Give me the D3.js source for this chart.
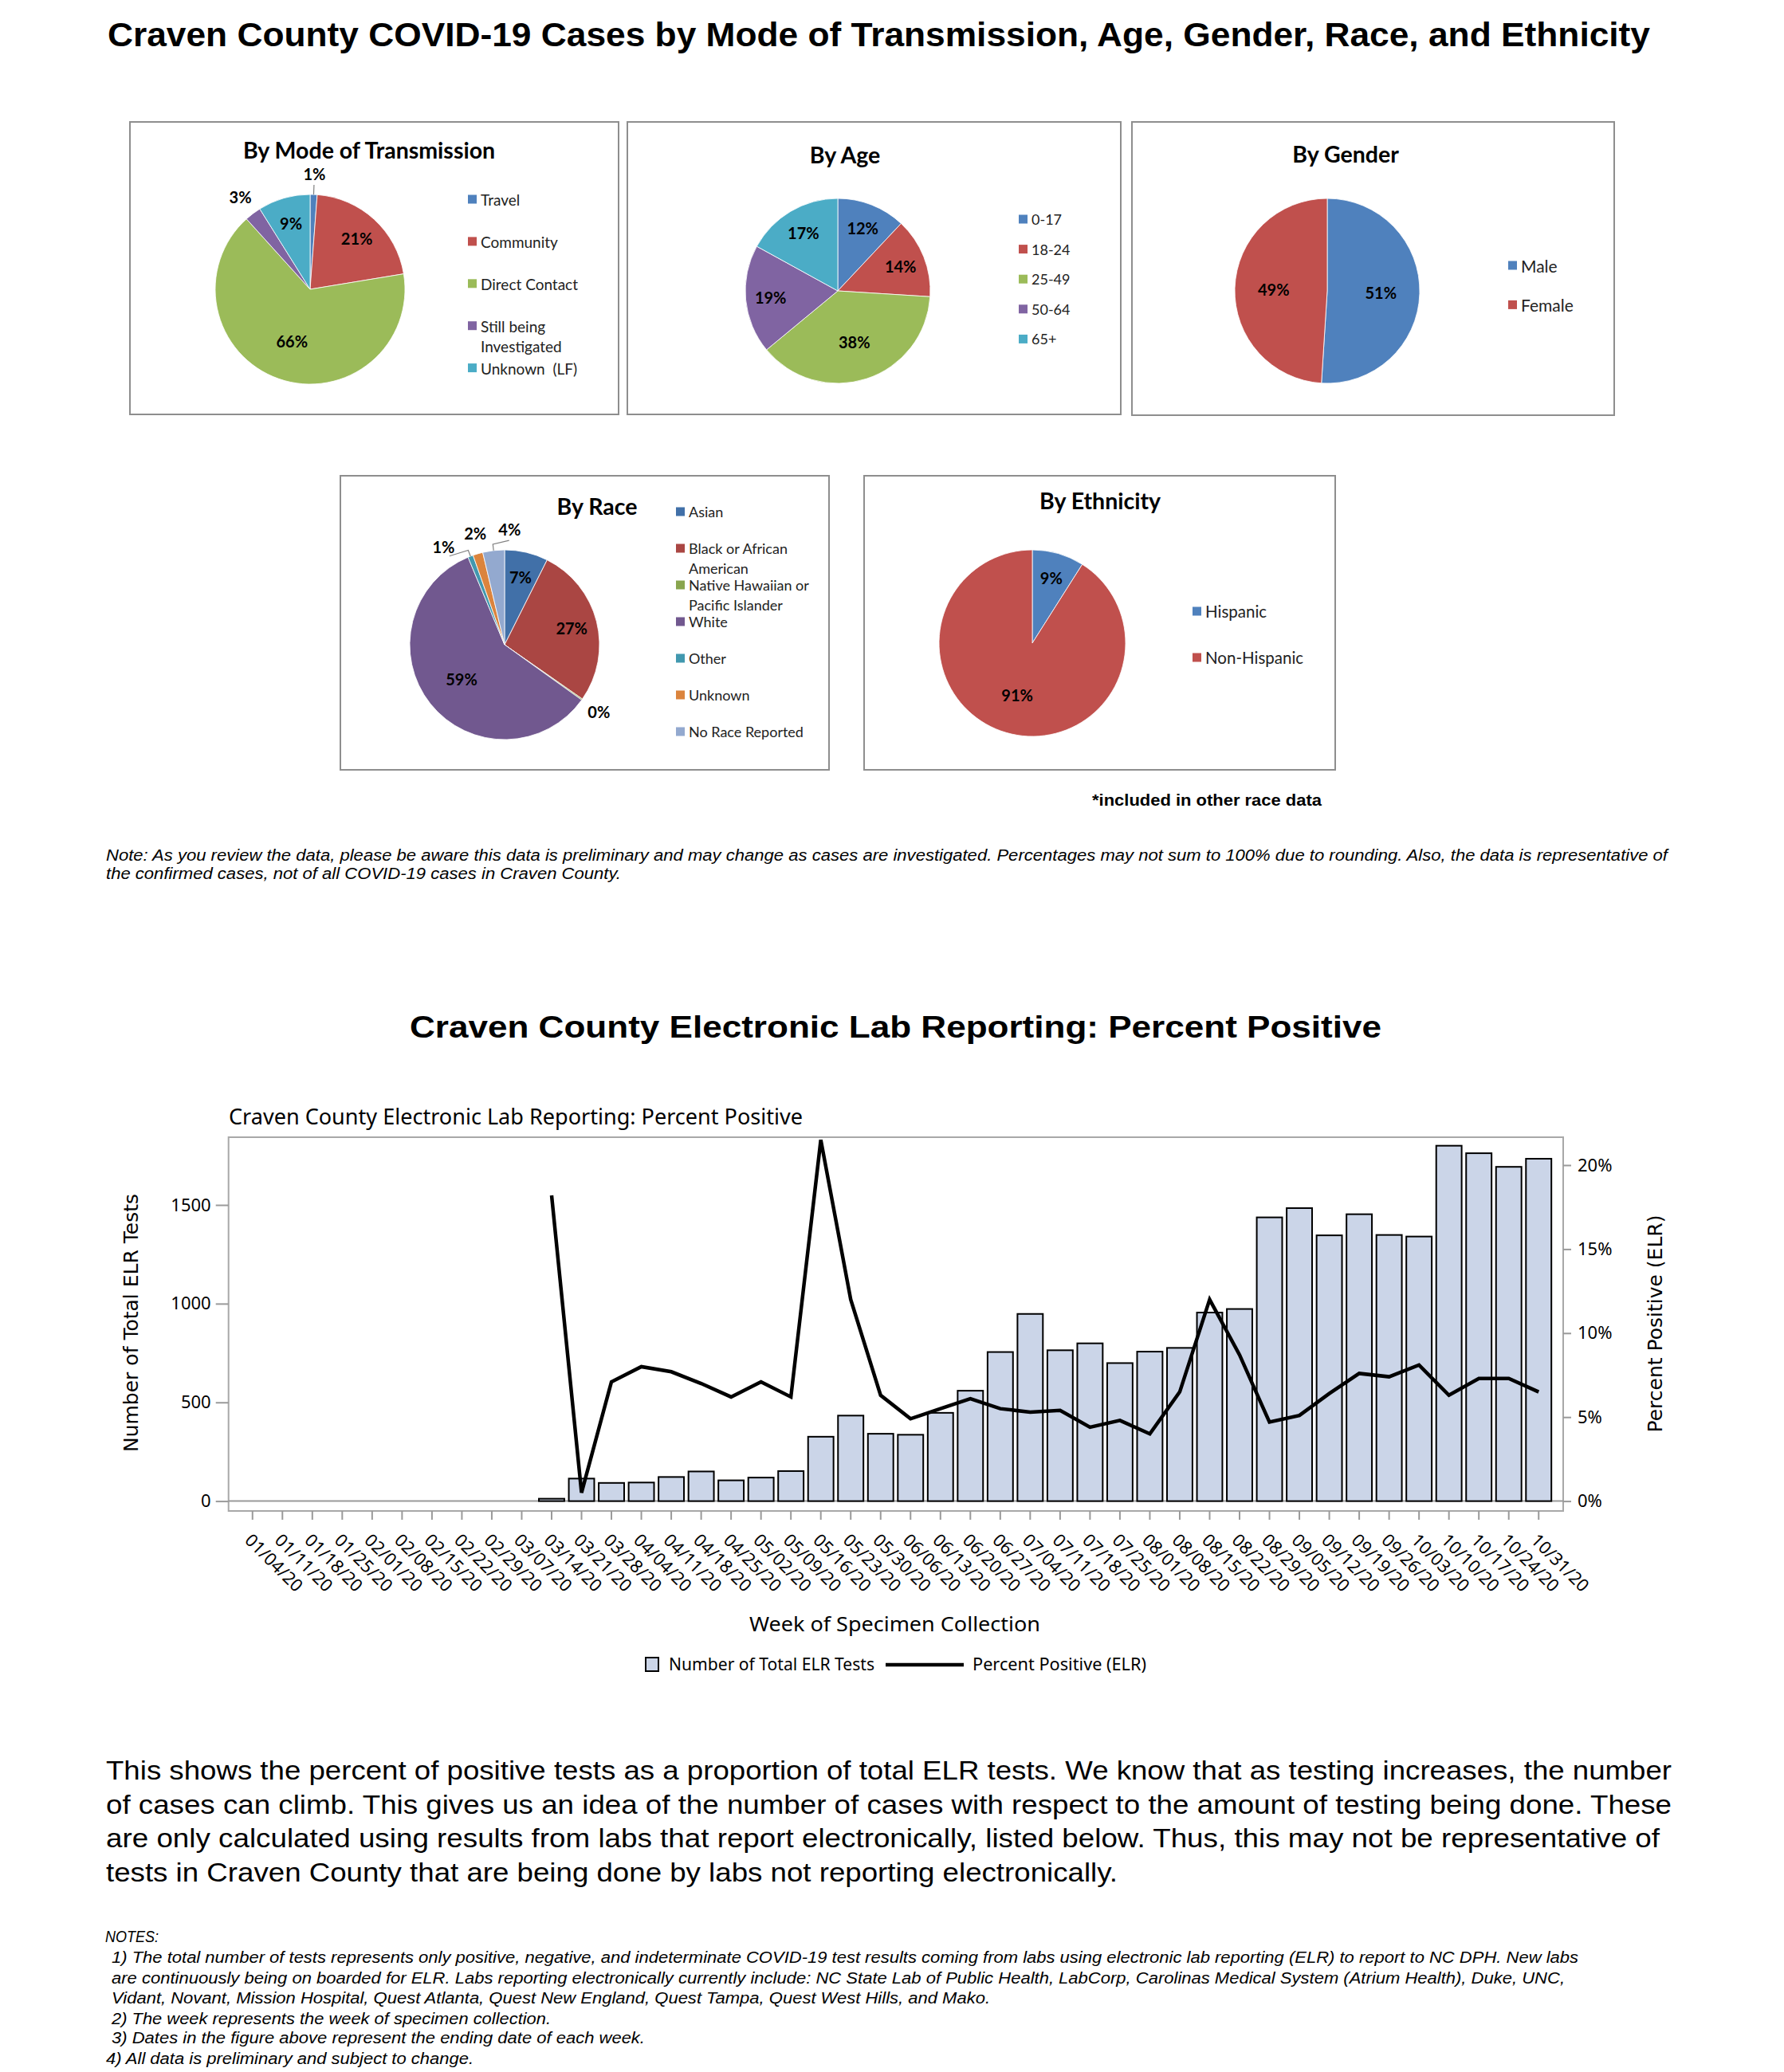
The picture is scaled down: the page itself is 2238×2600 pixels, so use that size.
<!DOCTYPE html>
<html>
<head>
<meta charset="utf-8">
<script src="https://cdn.jsdelivr.net/npm/d3@7"></script>
<style>
  body { margin: 0; background: #fff; }
  svg { display: block; }
  .arial { font-family: "Liberation Sans", Arial, sans-serif; }
  .cal { font-family: Lato, "Open Sans", sans-serif; }
  .sas { font-family: "Noto Sans", "Open Sans", sans-serif; }
</style>
</head>
<body>
<svg id="page" width="2238" height="2600"></svg>
<script>
// ---------- data ----------
const transmissionCats = ['Travel', 'Community', 'Direct Contact', 'Still being Investigated', 'Unknown\u00a0\u00a0(LF)'];
const transmissionPct = [1.2, 21.2, 65.9, 2.8, 8.9];

const ageCats = ['0-17', '18-24', '25-49', '50-64', '65+'];
const agePct = [12, 14, 38, 19, 17];

const genderCats = ['Male', 'Female'];
const genderPct = [51, 49];

const raceCats = ['Asian', 'Black or African American', 'Native Hawaiian or Pacific Islander', 'White', 'Other', 'Unknown', 'No Race Reported'];
const racePct = [7.4, 27.3, 0.2, 58.8, 0.9, 1.7, 3.7];

const ethnicityCats = ['Hispanic', 'Non-Hispanic'];
const ethnicityPct = [9, 91];

const weeks = ['01/04/20', '01/11/20', '01/18/20', '01/25/20', '02/01/20', '02/08/20', '02/15/20', '02/22/20',
  '02/29/20', '03/07/20', '03/14/20', '03/21/20', '03/28/20', '04/04/20', '04/11/20', '04/18/20', '04/25/20',
  '05/02/20', '05/09/20', '05/16/20', '05/23/20', '05/30/20', '06/06/20', '06/13/20', '06/20/20', '06/27/20',
  '07/04/20', '07/11/20', '07/18/20', '07/25/20', '08/01/20', '08/08/20', '08/15/20', '08/22/20', '08/29/20',
  '09/05/20', '09/12/20', '09/19/20', '09/26/20', '10/03/20', '10/10/20', '10/17/20', '10/24/20', '10/31/20'];
const elrTests = [0, 0, 0, 0, 0, 0, 0, 0, 0, 0, 12, 114, 92, 94, 122, 150, 105, 119, 152, 326, 433, 341,
  336, 447, 559, 755, 948, 764, 799, 699, 757, 776, 955, 973, 1437, 1484, 1346, 1453, 1348, 1340, 1800,
  1762, 1693, 1734];
const pctPositive = [null, null, null, null, null, null, null, null, null, null, 18.2, 0.5, 7.1, 8.0, 7.7,
  7.0, 6.2, 7.1, 6.2, 21.5, 12.0, 6.3, 4.9, 5.5, 6.1, 5.5, 5.3, 5.4, 4.4, 4.8, 4.0, 6.5, 12.0, 8.7, 4.7,
  5.1, 6.4, 7.6, 7.4, 8.1, 6.3, 7.3, 7.3, 6.5];

const leftTicks = [0, 500, 1000, 1500];
const rightTicks = [0, 5, 10, 15, 20];

const officeColors = ['#4f81bd', '#c0504d', '#9bbb59', '#8064a2', '#4bacc6'];
const raceColors = ['#4170a8', '#aa4643', '#89a54e', '#71588f', '#4198af', '#db843d', '#93a9cf'];

const svg = d3.select('#page');

// ---------- text helpers ----------
function line(x, y, str, cls, size, opts = {}) {
  const t = svg.append('text')
    .attr('x', x).attr('y', y)
    .attr('class', cls)
    .style('font-size', size + 'px')
    .text(str);
  if (opts.bold) t.style('font-weight', 'bold');
  if (opts.italic) t.style('font-style', 'italic');
  if (opts.len) t.attr('textLength', opts.len).attr('lengthAdjust', 'spacingAndGlyphs');
  if (opts.anchor) t.attr('text-anchor', opts.anchor);
  return t;
}

function wrap(text, str, width, lh) {
  const words = str.split(' ');
  let cur = [];
  let tspan = text.append('tspan').attr('x', text.attr('x')).attr('dy', 0);
  words.forEach(w => {
    cur.push(w);
    tspan.text(cur.join(' '));
    if (tspan.node().getComputedTextLength() > width && cur.length > 1) {
      cur.pop();
      tspan.text(cur.join(' '));
      cur = [w];
      tspan = text.append('tspan').attr('x', text.attr('x')).attr('dy', lh).text(w);
    }
  });
}

// ---------- page titles and notes ----------
line(135, 58, 'Craven County COVID-19 Cases by Mode of Transmission, Age, Gender, Race, and Ethnicity',
  'arial', 42, { bold: true, len: 1935 });

// ---------- pies ----------
function drawPie(p) {
  const g = svg.append('g');
  g.append('rect')
    .attr('x', p.box[0]).attr('y', p.box[1])
    .attr('width', p.box[2]).attr('height', p.box[3])
    .attr('fill', '#fff').attr('stroke', '#8e8e8e').attr('stroke-width', 2);

  g.append('text')
    .attr('class', 'cal')
    .attr('x', p.titleX).attr('y', p.titleY)
    .attr('text-anchor', 'middle')
    .style('font-size', '28.5px').style('font-weight', 'bold')
    .text(p.title);

  const rows = p.cats.map((c, i) => ({ c, v: p.values[i], color: p.colors[i] }));
  const arcs = d3.pie().sort(null).value(d => d.v)(rows);
  const arc = d3.arc().innerRadius(0).outerRadius(p.r);
  const total = d3.sum(p.values);

  const pg = g.append('g').attr('transform', `translate(${p.cx},${p.cy})`);
  pg.selectAll('path')
    .data(arcs)
    .join('path')
    .attr('d', arc)
    .attr('fill', d => d.data.color)
    .attr('stroke', '#fff')
    .attr('stroke-width', 0.8);

  // label placement: small slices go outside, crowded ones get spread around their mean angle
  const minSep = 0.3;
  const labels = arcs.map(a => {
    const frac = a.data.v / total;
    const mid = (a.startAngle + a.endAngle) / 2;
    return { frac, mid, ang: mid, out: frac < 0.045 };
  });
  const clusters = [];
  labels.filter(l => l.out).forEach(l => {
    const last = clusters[clusters.length - 1];
    if (last && l.mid - last[last.length - 1].mid < minSep) last.push(l);
    else clusters.push([l]);
  });
  clusters.forEach(cl => {
    const mean = d3.mean(cl, l => l.mid);
    cl.forEach((l, k) => { l.ang = mean + (k - (cl.length - 1) / 2) * minSep; });
  });

  labels.forEach(l => {
    let rr;
    if (l.out) {
      rr = p.r + 26;
      const moved = Math.abs(l.ang - l.mid) > 0.12;
      if (moved || (l.frac >= 0.005 && l.frac < 0.015)) {
        pg.append('path')
          .attr('d', d3.line()([
            [Math.sin(l.mid) * p.r, -Math.cos(l.mid) * p.r],
            [Math.sin(l.mid) * (p.r + 8), -Math.cos(l.mid) * (p.r + 8)],
            [Math.sin(l.ang) * (p.r + 12), -Math.cos(l.ang) * (p.r + 12)]
          ]))
          .attr('fill', 'none').attr('stroke', '#808080').attr('stroke-width', 1.2);
      }
    } else {
      rr = p.r * (l.frac > 0.35 ? 0.58 : 0.73);
    }
    pg.append('text')
      .attr('class', 'cal')
      .attr('x', Math.sin(l.ang) * rr)
      .attr('y', -Math.cos(l.ang) * rr)
      .attr('text-anchor', 'middle')
      .attr('dominant-baseline', 'central')
      .style('font-size', '20px').style('font-weight', 'bold')
      .text(Math.round(l.frac * 100) + '%');
  });

  p.cats.forEach((c, i) => {
    const y = p.legY + i * p.legStep;
    g.append('rect')
      .attr('x', p.legX).attr('y', y - 5.5)
      .attr('width', 11).attr('height', 11)
      .attr('fill', p.colors[i]);
    const t = g.append('text')
      .attr('class', 'cal')
      .attr('x', p.legX + 16).attr('y', y)
      .attr('dominant-baseline', 'central')
      .style('font-size', p.legFont + 'px')
      .attr('fill', '#222');
    wrap(t, c, p.legWrap, 25.3);
  });
}

drawPie({
  title: 'By Mode of Transmission', titleX: 463, titleY: 199,
  box: [163, 153, 613, 367], cx: 389, cy: 363, r: 119,
  cats: transmissionCats, values: transmissionPct, colors: officeColors,
  legX: 587, legY: 250, legStep: 52.9, legFont: 19, legWrap: 125
});
drawPie({
  title: 'By Age', titleX: 1060, titleY: 205,
  box: [787, 153, 619, 367], cx: 1051, cy: 365, r: 116,
  cats: ageCats, values: agePct, colors: officeColors,
  legX: 1278, legY: 275, legStep: 37.6, legFont: 18, legWrap: 150
});
drawPie({
  title: 'By Gender', titleX: 1688, titleY: 204,
  box: [1420, 153, 605, 368], cx: 1665, cy: 365, r: 116,
  cats: genderCats, values: genderPct, colors: officeColors,
  legX: 1892, legY: 333, legStep: 49.4, legFont: 21, legWrap: 150
});
drawPie({
  title: 'By Race', titleX: 749, titleY: 646,
  box: [427, 597, 613, 369], cx: 633, cy: 809, r: 119,
  cats: raceCats, values: racePct, colors: raceColors,
  legX: 848, legY: 642, legStep: 46, legFont: 18, legWrap: 165
});
drawPie({
  title: 'By Ethnicity', titleX: 1380, titleY: 639,
  box: [1084, 597, 591, 369], cx: 1295, cy: 807, r: 117,
  cats: ethnicityCats, values: ethnicityPct, colors: officeColors,
  legX: 1496, legY: 767, legStep: 58, legFont: 20.5, legWrap: 160
});

line(1370, 1011, '*included in other race data', 'arial', 20, { bold: true, len: 288 });

line(133, 1080, 'Note: As you review the data, please be aware this data is preliminary and may change as cases are investigated. Percentages may not sum to 100% due to rounding. Also, the data is representative of',
  'arial', 20, { italic: true, len: 1959 });
line(133, 1103, 'the confirmed cases, not of all COVID-19 cases in Craven County.',
  'arial', 20, { italic: true, len: 646 });

// ---------- ELR chart ----------
line(514, 1302, 'Craven County Electronic Lab Reporting: Percent Positive', 'arial', 39, { bold: true, len: 1219 });
line(287, 1411, 'Craven County Electronic Lab Reporting: Percent Positive', 'sas', 27, { len: 720 });

const plot = { left: 286.7, right: 1961, top: 1427, bottom: 1896 };
const x = d3.scaleBand().domain(weeks).range([298, 1949]).paddingInner(0.15).paddingOuter(0.075);
const yL = d3.scaleLinear().domain([0, 1500]).range([1883.6, 1512]);
const yR = d3.scaleLinear().domain([0, 20]).range([1883.6, 1462]);

svg.append('rect')
  .attr('x', plot.left).attr('y', plot.top)
  .attr('width', plot.right - plot.left).attr('height', plot.bottom - plot.top)
  .attr('fill', '#fff').attr('stroke', '#a8a8a8').attr('stroke-width', 2);

svg.append('line')
  .attr('x1', plot.left).attr('x2', plot.right)
  .attr('y1', yL(0)).attr('y2', yL(0))
  .attr('stroke', '#9a9a9a').attr('stroke-width', 2);

function styleAxis(g) {
  g.select('.domain').remove();
  g.selectAll('.tick line').attr('stroke', '#9a9a9a').attr('stroke-width', 2);
  g.attr('font-family', '"Noto Sans", "Open Sans", sans-serif').attr('font-size', 22);
  g.selectAll('.tick text').attr('fill', '#000');
}

svg.append('g')
  .attr('transform', `translate(${plot.left},0)`)
  .call(d3.axisLeft(yL).tickValues(leftTicks).tickSize(16).tickPadding(6).tickFormat(d3.format('d')))
  .call(styleAxis);

svg.append('g')
  .attr('transform', `translate(${plot.right},0)`)
  .call(d3.axisRight(yR).tickValues(rightTicks).tickSize(10).tickPadding(8).tickFormat(d => d + '%'))
  .call(styleAxis);

svg.append('g')
  .attr('transform', `translate(0,${plot.bottom})`)
  .call(d3.axisBottom(x).tickSize(11).tickSizeOuter(0))
  .call(styleAxis)
  .call(g => g.selectAll('.tick text')
    .attr('x', 0).attr('y', 0).attr('dy', 0)
    .attr('transform', 'translate(-11,38) rotate(45)')
    .style('text-anchor', 'start'));

svg.append('g')
  .selectAll('rect')
  .data(weeks.map((w, i) => ({ w, n: elrTests[i] })).filter(d => d.n > 0))
  .join('rect')
  .attr('x', d => x(d.w))
  .attr('y', d => yL(d.n))
  .attr('width', x.bandwidth())
  .attr('height', d => yL(0) - yL(d.n))
  .attr('fill', '#cbd5e8')
  .attr('stroke', '#000')
  .attr('stroke-width', 2);

const pctLine = d3.line()
  .defined(d => d.p != null)
  .x(d => x(d.w) + x.bandwidth() / 2)
  .y(d => yR(d.p));

svg.append('path')
  .datum(weeks.map((w, i) => ({ w, p: pctPositive[i] })))
  .attr('d', pctLine)
  .attr('fill', 'none')
  .attr('stroke', '#000')
  .attr('stroke-width', 4.5)
  .attr('stroke-linejoin', 'miter');

svg.append('text')
  .attr('transform', `translate(164,1660) rotate(-90)`)
  .attr('text-anchor', 'middle').attr('dominant-baseline', 'central')
  .style('font-family', '"DejaVu Sans", Verdana, sans-serif').style('font-size', '25px')
  .text('Number of Total ELR Tests');

svg.append('text')
  .attr('transform', `translate(2076,1661) rotate(-90)`)
  .attr('text-anchor', 'middle').attr('dominant-baseline', 'central')
  .style('font-family', '"DejaVu Sans", Verdana, sans-serif').style('font-size', '25px')
  .text('Percent Positive (ELR)');

line(940, 2047, 'Week of Specimen Collection', 'sas', 26, { len: 365 });

// legend
svg.append('rect').attr('x', 810).attr('y', 2080).attr('width', 16).attr('height', 17)
  .attr('fill', '#cbd5e8').attr('stroke', '#000').attr('stroke-width', 2);
line(839, 2096, 'Number of Total ELR Tests', 'sas', 21, { len: 258 });
svg.append('line').attr('x1', 1111).attr('x2', 1209).attr('y1', 2089).attr('y2', 2089)
  .attr('stroke', '#000').attr('stroke-width', 4.5);
line(1220, 2096, 'Percent Positive (ELR)', 'sas', 21, { len: 218 });

// ---------- explanatory text ----------
const para = [
  ['This shows the percent of positive tests as a proportion of total ELR tests. We know that as testing increases, the number', 1964],
  ['of cases can climb. This gives us an idea of the number of cases with respect to the amount of testing being done. These', 1964],
  ['are only calculated using results from labs that report electronically, listed below. Thus, this may not be representative of', 1949],
  ['tests in Craven County that are being done by labs not reporting electronically.', 1269]
];
para.forEach((p, i) => line(133, 2233 + i * 42.7, p[0], 'arial', 33, { len: p[1] }));

const notes = [
  ['NOTES:', 132, 2437, 67],
  ['1) The total number of tests represents only positive, negative, and indeterminate COVID-19 test results coming from labs using electronic lab reporting (ELR) to report to NC DPH. New labs', 140, 2463, 1840],
  ['are continuously being on boarded for ELR. Labs reporting electronically currently include: NC State Lab of Public Health, LabCorp, Carolinas Medical System (Atrium Health), Duke, UNC,', 140, 2488.5, 1823],
  ['Vidant, Novant, Mission Hospital, Quest Atlanta, Quest New England, Quest Tampa, Quest West Hills, and Mako.', 140, 2514, 1102],
  ['2) The week represents the week of specimen collection.', 140, 2539.5, 551],
  ['3) Dates in the figure above represent the ending date of each week.', 140, 2564, 669],
  ['4) All data is preliminary and subject to change.', 133, 2589.5, 461]
];
notes.forEach(n => line(n[1], n[2], n[0], 'arial', 20, { italic: true, len: n[3] }));
</script>
</body>
</html>
